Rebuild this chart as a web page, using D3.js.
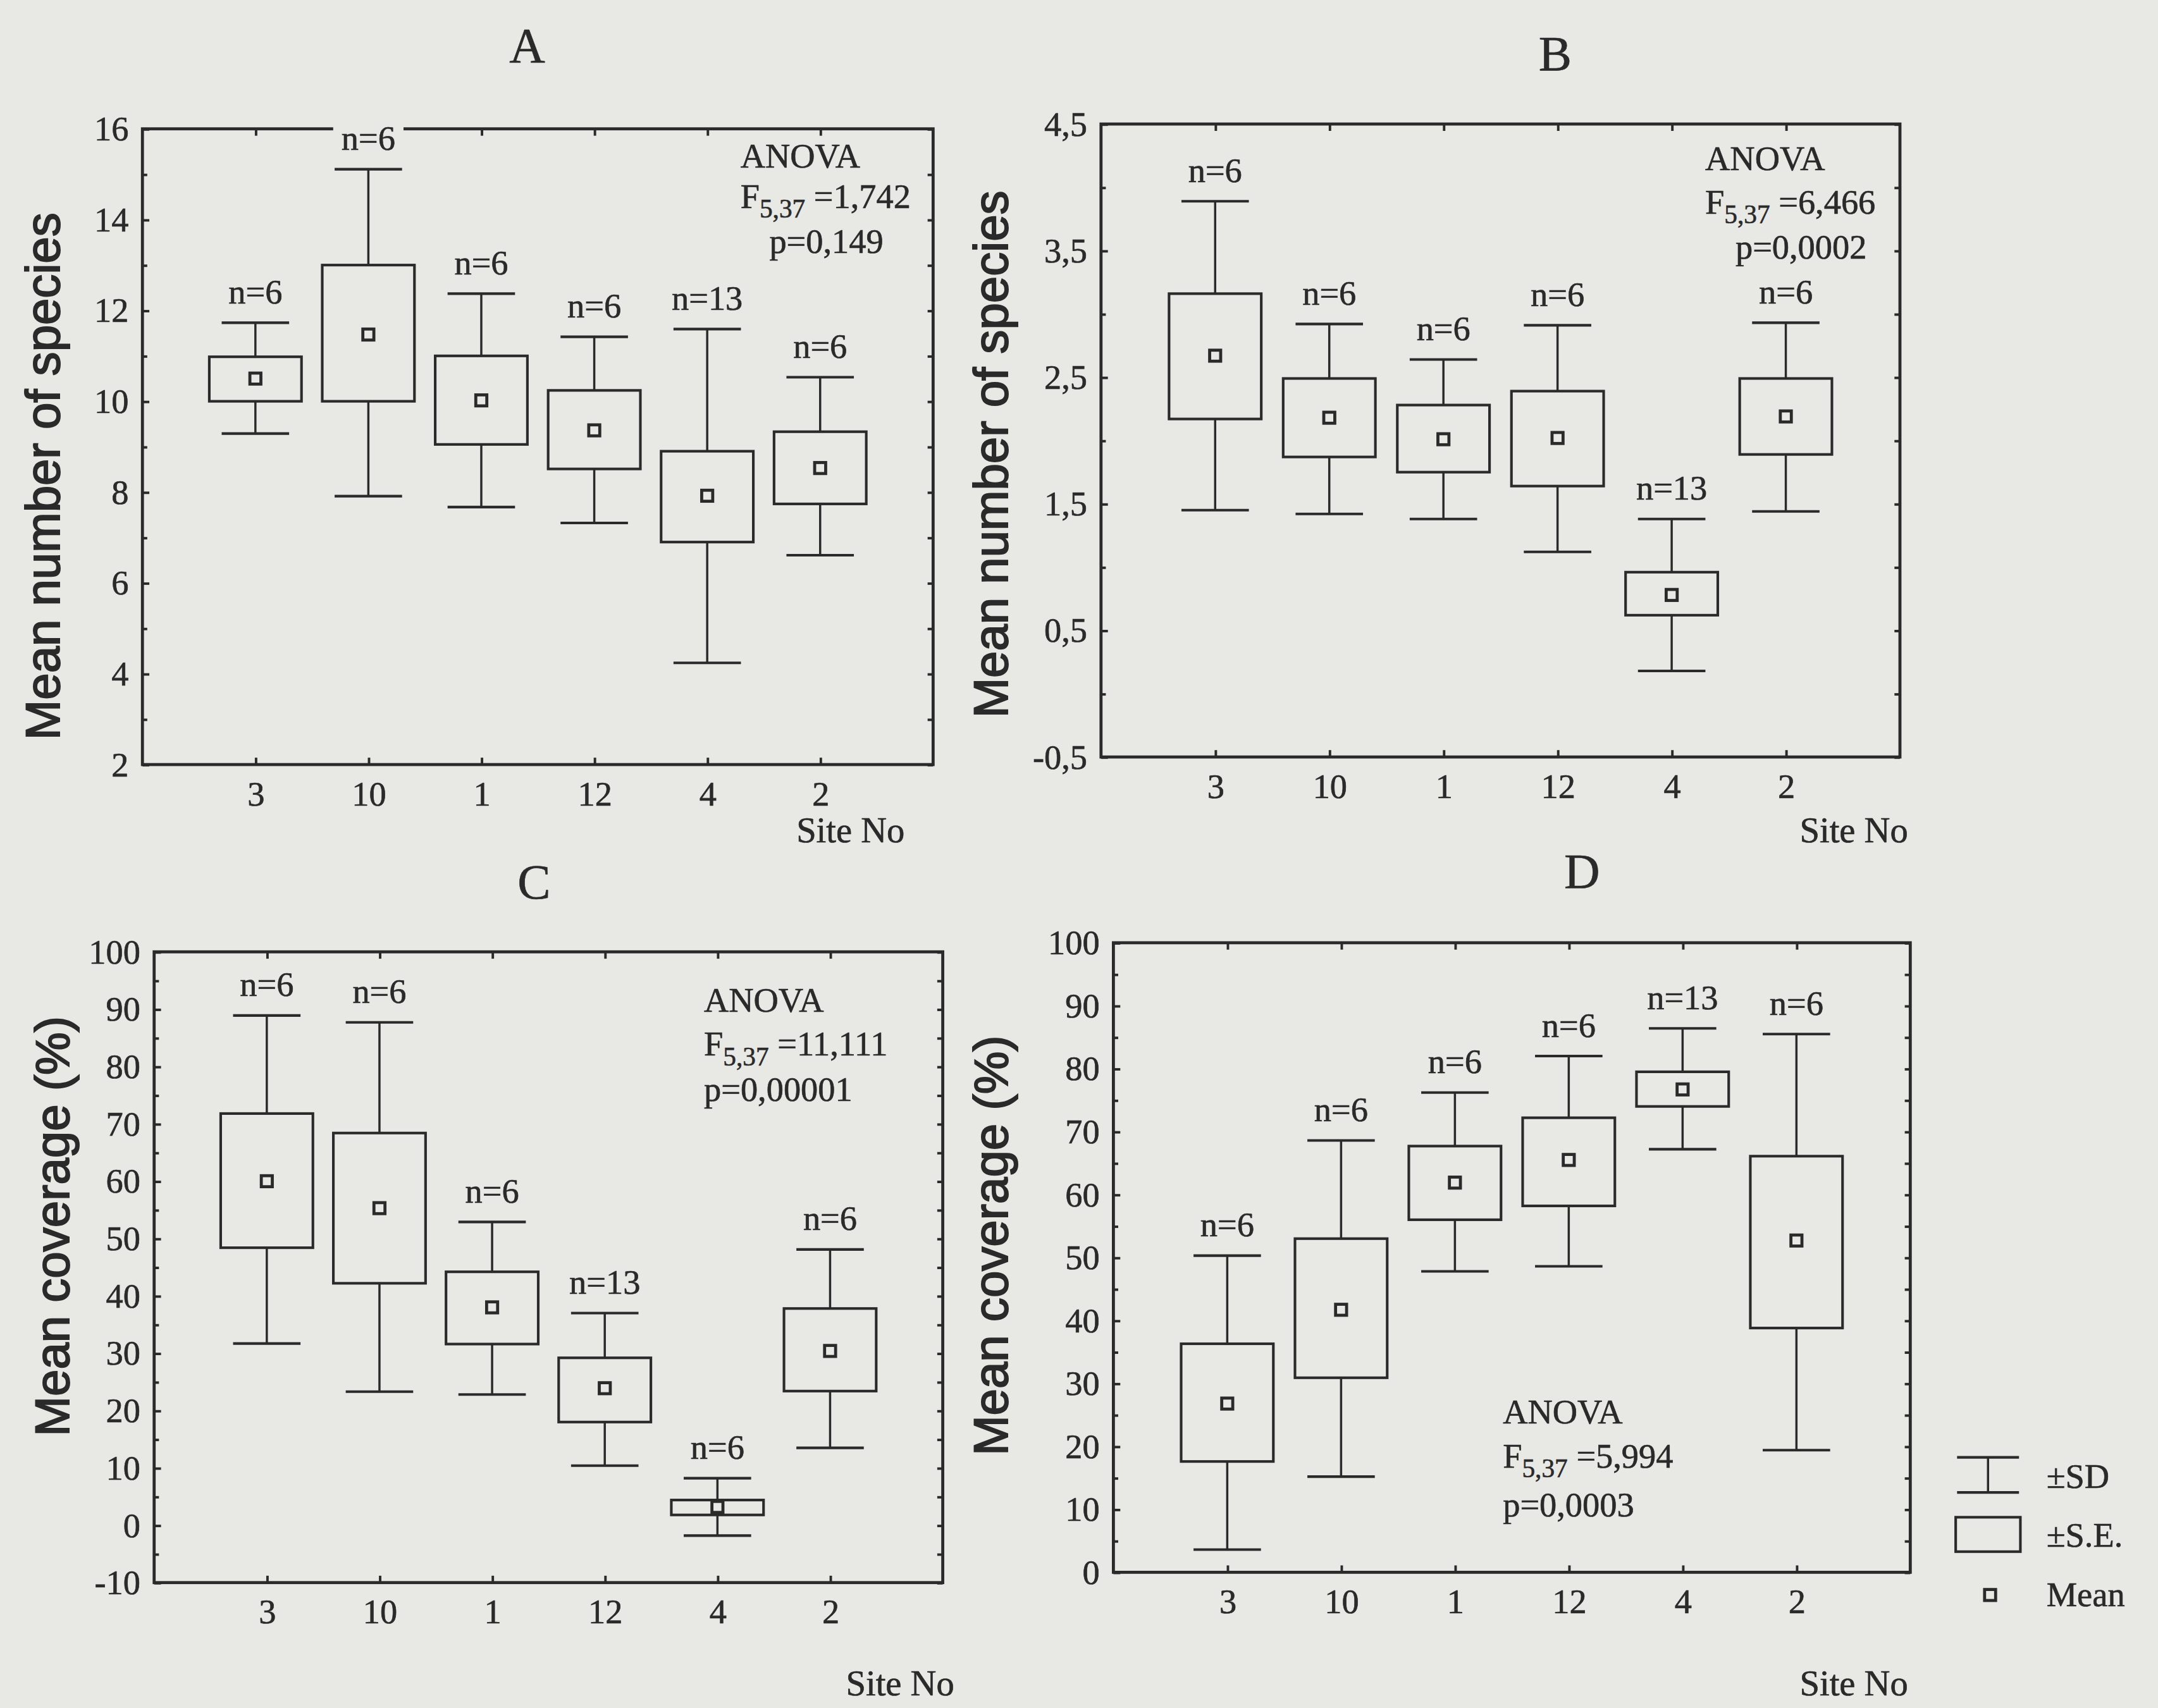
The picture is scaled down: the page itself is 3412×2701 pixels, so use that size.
<!DOCTYPE html>
<html>
<head>
<meta charset="utf-8">
<script src="https://cdn.jsdelivr.net/npm/d3@7"></script>
<style>
    html, body { margin: 0; padding: 0; background: #e8e8e5; }
    svg { display: block; }
</style>
</head>
<body>
<div id="chart"></div>
<script>
// site order on the x axis (same for all four panels)
const sites = ["3", "10", "1", "12", "4", "2"];

// A - mean number of species (first group)
const nA = [6, 6, 6, 6, 13, 6];
const meanA = [10.5, 11.47, 10.02, 9.36, 7.92, 8.53];
const seLoA = [10.0, 10.0, 9.05, 8.51, 6.9, 7.74];
const seHiA = [10.98, 13.0, 11.0, 10.24, 8.9, 9.33];
const sdLoA = [9.29, 7.91, 7.67, 7.32, 4.24, 6.61];
const sdHiA = [11.73, 15.11, 12.37, 11.42, 11.59, 10.53];
const ticksA = [2, 4, 6, 8, 10, 12, 14, 16];

// B - mean number of species (second group)
const nB = [6, 6, 6, 6, 13, 6];
const meanB = [2.67, 2.18, 2.01, 2.02, 0.78, 2.19];
const seLoB = [2.17, 1.87, 1.75, 1.64, 0.62, 1.89];
const seHiB = [3.16, 2.49, 2.28, 2.39, 0.96, 2.49];
const sdLoB = [1.45, 1.42, 1.38, 1.12, 0.18, 1.44];
const sdHiB = [3.89, 2.92, 2.64, 2.91, 1.38, 2.93];
const ticksB = [-0.5, 0.5, 1.5, 2.5, 3.5, 4.5];

// C - mean coverage (%)
const nC = [6, 6, 6, 13, 6, 6];
const meanC = [60.0, 55.3, 38.0, 23.9, 3.2, 30.4];
const seLoC = [48.4, 42.2, 31.6, 18.0, 1.8, 23.4];
const seHiC = [71.8, 68.4, 44.2, 29.2, 4.4, 37.8];
const sdLoC = [31.7, 23.3, 22.8, 10.4, -1.8, 13.5];
const sdHiC = [88.9, 87.7, 52.9, 37.0, 8.2, 48.1];
const ticksC = [-10, 0, 10, 20, 30, 40, 50, 60, 70, 80, 90, 100];

// D - mean coverage (%)
const nD = [6, 6, 6, 6, 13, 6];
const meanD = [26.8, 41.7, 61.9, 65.5, 76.7, 52.7];
const seLoD = [17.6, 30.9, 56.0, 58.2, 74.0, 38.8];
const seHiD = [36.3, 53.0, 67.7, 72.2, 79.5, 66.1];
const sdLoD = [3.6, 15.2, 47.8, 48.6, 67.2, 19.4];
const sdHiD = [50.3, 68.6, 76.2, 82.0, 86.4, 85.5];
const ticksD = [0, 10, 20, 30, 40, 50, 60, 70, 80, 90, 100];

// ANOVA results per panel
const anovaF = ["1,742", "6,466", "11,111", "5,994"];
const anovaP = ["0,149", "0,0002", "0,00001", "0,0003"];
const legendLabels = ["\u00b1SD", "\u00b1S.E.", "Mean"];

const ink = "#2a2a2a";
const paper = "#e8e8e5";
const serif = "'Liberation Serif', 'Times New Roman', serif";
const sans = "'Liberation Sans', Arial, sans-serif";

// drawing units follow the 1568 x 1241 view, scaled up to the full window
const W = 1568, H = 1241;
const svg = d3.select("#chart").append("svg")
    .attr("width", 3412)
    .attr("height", 2701)
    .attr("viewBox", [0, 0, W, H]);

svg.append("rect").attr("width", W).attr("height", H).attr("fill", paper);

const fmt = v => String(v).replace(".", ",");

const panels = [
    {
        title: "A", titlePos: [383, 45], box: [103.5, 678, 93.5, 555.5], domain: [2, 16],
        major: ticksA, minor: ticksA.slice(0, -1).map(v => v + 1),
        n: nA, mean: meanA, seLo: seLoA, seHi: seHiA, sdLo: sdLoA, sdHi: sdHiA,
        ylab: "Mean number of species", ylabPos: [31, 346], sitePos: [618, 612],
        anovaX: [538, 538, 559], anovaY: [121.5, 151, 183.5], k: 0
    },
    {
        title: "B", titlePos: [1130, 51], box: [800, 1380.5, 90, 550], domain: [-0.5, 4.5],
        major: ticksB, minor: ticksB.slice(0, -1).map(v => v + 0.5),
        n: nB, mean: meanB, seLo: seLoB, seHi: seHiB, sdLo: sdLoB, sdHi: sdHiB,
        ylab: "Mean number of species", ylabPos: [720, 330], sitePos: [1347, 612],
        anovaX: [1239, 1239, 1261], anovaY: [123.5, 155, 188], k: 1
    },
    {
        title: "C", titlePos: [388, 653], box: [112, 685, 691.6, 1150], domain: [-10, 100],
        major: ticksC, minor: ticksC.slice(0, -1).map(v => v + 5),
        n: nC, mean: meanC, seLo: seLoC, seHi: seHiC, sdLo: sdLoC, sdHi: sdHiC,
        ylab: "Mean coverage (%)", ylabPos: [38, 891], sitePos: [654, 1232],
        anovaX: [511.5, 511.5, 511.5], anovaY: [735, 767, 800], k: 2
    },
    {
        title: "D", titlePos: [1149.5, 645], box: [809, 1388, 685, 1142.5], domain: [0, 100],
        major: ticksD, minor: ticksD.slice(0, -1).map(v => v + 5),
        n: nD, mean: meanD, seLo: seLoD, seHi: seHiD, sdLo: sdLoD, sdHi: sdHiD,
        ylab: "Mean coverage (%)", ylabPos: [720, 905], sitePos: [1347, 1232],
        anovaX: [1092, 1092, 1092], anovaY: [1034.5, 1066.5, 1102], k: 3
    }
];

function style_axis(g) {
    g.attr("font-size", 25).attr("font-family", serif);
    g.select(".domain").remove();
    g.selectAll(".tick line").attr("stroke", ink).attr("stroke-width", 1.8);
    g.selectAll(".tick text").attr("fill", ink).attr("stroke", ink).attr("stroke-width", 0.3);
}

function draw_panel(p) {
    const [x0, x1, y0, y1] = p.box;
    const x = d3.scalePoint().domain(sites).range([x0, x1]).padding(1);
    const y = d3.scaleLinear().domain(p.domain).range([y1, y0]);
    const g = svg.append("g").attr("font-family", serif);

    // y axis, ticks pointing in
    g.append("g")
        .attr("transform", `translate(${x0},0)`)
        .call(d3.axisLeft(y).tickValues(p.major).tickFormat(fmt).tickSize(-5).tickPadding(10))
        .call(style_axis);
    g.append("g")
        .attr("transform", `translate(${x0},0)`)
        .call(d3.axisLeft(y).tickValues(p.minor).tickFormat("").tickSize(-3.5))
        .call(style_axis);
    g.append("g")
        .attr("transform", `translate(${x1},0)`)
        .call(d3.axisRight(y).tickValues(p.major.concat(p.minor)).tickFormat("").tickSize(-4))
        .call(style_axis);

    // x axis
    g.append("g")
        .attr("transform", `translate(0,${y1})`)
        .call(d3.axisBottom(x).tickSize(-5).tickPadding(12))
        .call(style_axis);
    g.append("g")
        .attr("transform", `translate(0,${y0})`)
        .call(d3.axisTop(x).tickFormat("").tickSize(-5))
        .call(style_axis);

    // frame
    g.append("rect")
        .attr("x", x0).attr("y", y0)
        .attr("width", x1 - x0).attr("height", y1 - y0)
        .attr("fill", "none").attr("stroke", ink).attr("stroke-width", 2.2);

    const rows = sites.map((s, i) => ({
        site: s, n: p.n[i], mean: p.mean[i],
        seLo: p.seLo[i], seHi: p.seHi[i], sdLo: p.sdLo[i], sdHi: p.sdHi[i]
    }));
    const boxW = 67, capW = 49, meanS = 8;

    const item = g.append("g").selectAll("g").data(rows).join("g")
        .attr("transform", d => `translate(${x(d.site)},0)`);

    item.append("line")
        .attr("y1", d => y(d.sdLo)).attr("y2", d => y(d.sdHi))
        .attr("stroke", ink).attr("stroke-width", 1.6);
    item.append("line")
        .attr("x1", -capW / 2).attr("x2", capW / 2)
        .attr("y1", d => y(d.sdHi)).attr("y2", d => y(d.sdHi))
        .attr("stroke", ink).attr("stroke-width", 1.9);
    item.append("line")
        .attr("x1", -capW / 2).attr("x2", capW / 2)
        .attr("y1", d => y(d.sdLo)).attr("y2", d => y(d.sdLo))
        .attr("stroke", ink).attr("stroke-width", 1.9);
    item.append("rect")
        .attr("x", -boxW / 2).attr("width", boxW)
        .attr("y", d => y(d.seHi)).attr("height", d => y(d.seLo) - y(d.seHi))
        .attr("fill", paper).attr("stroke", ink).attr("stroke-width", 1.9);
    item.append("rect")
        .attr("x", -meanS / 2).attr("width", meanS)
        .attr("y", d => y(d.mean) - meanS / 2).attr("height", meanS)
        .attr("fill", paper).attr("stroke", ink).attr("stroke-width", 2.2);

    // n labels, knocked out of anything behind them (the frame in A)
    const nText = item.append("text")
        .attr("y", d => y(d.sdHi) - 14)
        .attr("text-anchor", "middle")
        .attr("font-size", 25)
        .attr("fill", ink).attr("stroke", ink).attr("stroke-width", 0.3)
        .text(d => `n=${d.n}`);
    nText.each(function () {
        const b = this.getBBox();
        d3.select(this.parentNode).insert("rect", "text")
            .attr("x", b.x - 6).attr("y", b.y + 2)
            .attr("width", b.width + 12).attr("height", b.height - 4)
            .attr("fill", paper);
    });

    // title
    svg.append("text")
        .attr("x", p.titlePos[0]).attr("y", p.titlePos[1])
        .attr("text-anchor", "middle")
        .attr("font-family", serif).attr("font-size", 36)
        .attr("fill", ink).attr("stroke", ink).attr("stroke-width", 0.3)
        .text(p.title);

    // y label
    svg.append("text")
        .attr("transform", `translate(${p.ylabPos[0]},${p.ylabPos[1]}) rotate(-90)`)
        .attr("text-anchor", "middle")
        .attr("dominant-baseline", "central")
        .attr("font-family", sans).attr("font-size", 35)
        .attr("fill", ink).attr("stroke", ink).attr("stroke-width", 0.9)
        .text(p.ylab);

    // x label
    svg.append("text")
        .attr("x", p.sitePos[0]).attr("y", p.sitePos[1])
        .attr("text-anchor", "middle")
        .attr("font-family", serif).attr("font-size", 26)
        .attr("fill", ink).attr("stroke", ink).attr("stroke-width", 0.3)
        .text("Site No");

    // ANOVA block
    const a = svg.append("g").attr("font-family", serif).attr("font-size", 25)
        .attr("fill", ink).attr("stroke", ink).attr("stroke-width", 0.3);
    a.append("text").attr("x", p.anovaX[0]).attr("y", p.anovaY[0]).text("ANOVA");
    const f = a.append("text").attr("x", p.anovaX[1]).attr("y", p.anovaY[1]);
    f.append("tspan").text("F");
    f.append("tspan").attr("font-size", 19).attr("dy", 7).text("5,37");
    f.append("tspan").attr("dy", -7).text(` =${anovaF[p.k]}`);
    a.append("text").attr("x", p.anovaX[2]).attr("y", p.anovaY[2]).text(`p=${anovaP[p.k]}`);
}

panels.forEach(draw_panel);

// legend (right of panel D)
const lg = svg.append("g").attr("font-family", serif).attr("font-size", 25).attr("fill", ink);
lg.append("line").attr("x1", 1422).attr("x2", 1467).attr("y1", 1059).attr("y2", 1059)
    .attr("stroke", ink).attr("stroke-width", 1.9);
lg.append("line").attr("x1", 1422).attr("x2", 1467).attr("y1", 1084.5).attr("y2", 1084.5)
    .attr("stroke", ink).attr("stroke-width", 1.9);
lg.append("line").attr("x1", 1444.5).attr("x2", 1444.5).attr("y1", 1059).attr("y2", 1084.5)
    .attr("stroke", ink).attr("stroke-width", 1.6);
lg.append("rect").attr("x", 1421).attr("y", 1102.5).attr("width", 47).attr("height", 25)
    .attr("fill", paper).attr("stroke", ink).attr("stroke-width", 1.9);
lg.append("rect").attr("x", 1442).attr("y", 1155).attr("width", 8).attr("height", 8)
    .attr("fill", paper).attr("stroke", ink).attr("stroke-width", 2.2);
const legendY = [1081, 1124, 1167];
legendLabels.forEach((t, i) => {
    lg.append("text").attr("x", 1487).attr("y", legendY[i])
        .attr("stroke", ink).attr("stroke-width", 0.3).text(t);
});
</script>
</body>
</html>
